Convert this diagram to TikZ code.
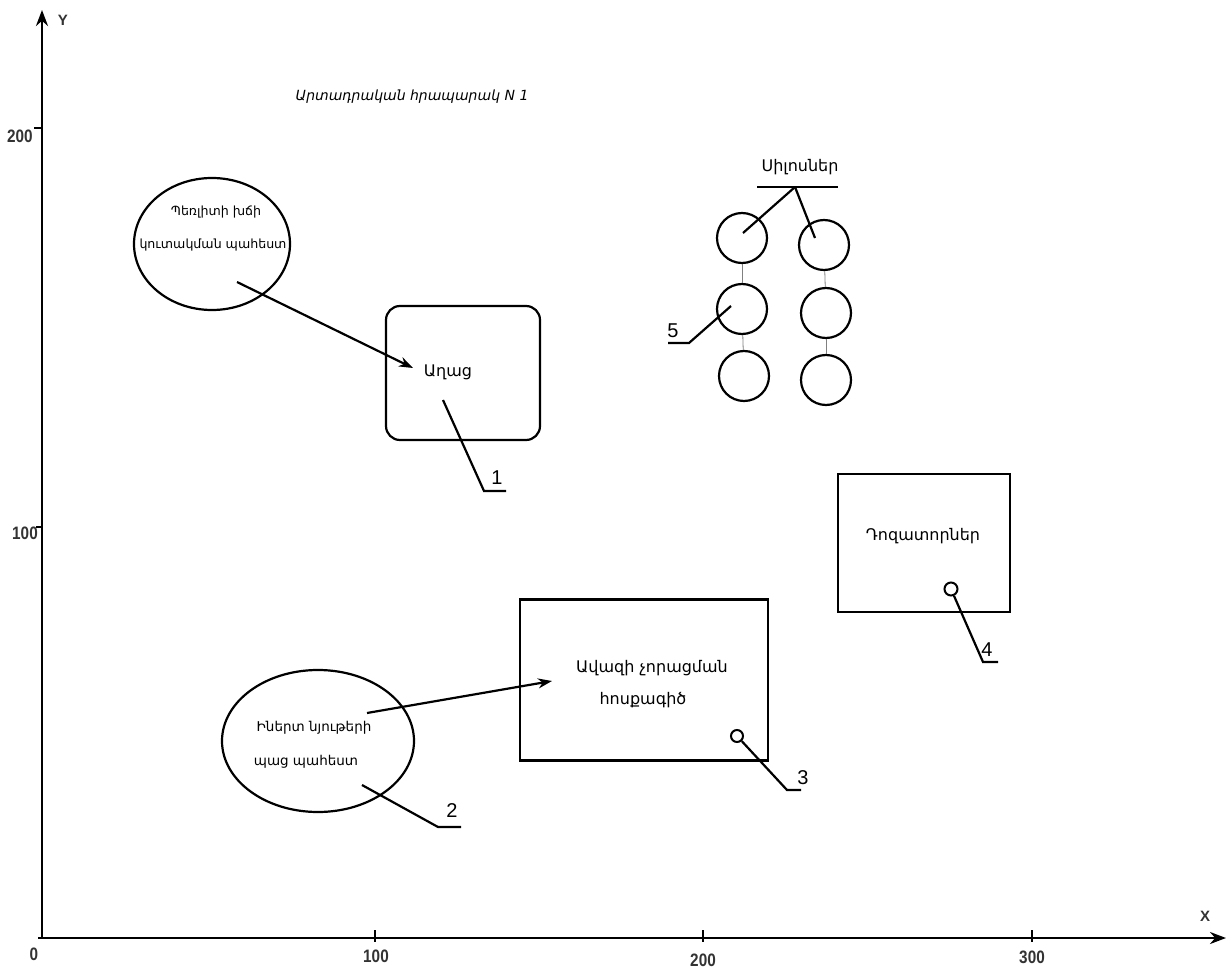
\documentclass[tikz,border=0pt]{standalone}
\usepackage{fontspec}
\setmainfont{DejaVu Sans}
\newfontfamily\numfont{Liberation Sans}
\usetikzlibrary{shapes.geometric,arrows.meta}
\tikzset{
  ln/.style={line width=2.2pt,black},
  axis/.style={line width=2.6pt,black,-{Stealth[length=16pt,width=12pt]}},
  arr/.style={line width=2.2pt,black,-{Stealth[length=14pt,width=10pt]}},
  lbl/.style={font=\fontsize{16}{18}\selectfont,inner sep=0pt},
  elbl/.style={font=\fontsize{13.5}{15}\selectfont,inner sep=0pt},
  elbls/.style={font=\fontsize{12.6}{15}\selectfont,inner sep=0pt},
  num/.style={font=\numfont\fontsize{20}{22}\selectfont,inner sep=0pt},
  tick/.style={font=\numfont\fontsize{18}{20}\selectfont\bfseries,inner sep=0pt,text=black!80,xscale=0.85},
  silo/.style={circle,draw,line width=2.2pt,minimum size=50pt,inner sep=0pt},
  box/.style={draw,line width=2.2pt,inner sep=0pt},
  thin/.style={gray,line width=0.8pt},
}
\begin{document}
\begin{tikzpicture}[x=1pt,y=-1pt]
\useasboundingbox (0,0) rectangle (1231,973);
\fill[white] (0,0) rectangle (1231,973);
% axes
\coordinate (O) at (42,938);
\coordinate (Ytop) at (42,10);
\coordinate (Xend) at (1226,938);
\draw[axis] (O) -- (Ytop);
\draw[axis] (38,938) -- (Xend);
\node[font=\numfont\fontsize{15}{17}\selectfont\bfseries,inner sep=0pt,text=black!80] (ly) at (63,20) {Y};
\node[font=\numfont\fontsize{15}{17}\selectfont\bfseries,inner sep=0pt,text=black!80] (lx) at (1205,916) {X};
\node[tick] (t0) at (34,954) {0};
\draw[line width=1.2pt] (375,930) -- (375,942);
\draw[line width=1.2pt] (703,930) -- (703,942);
\draw[line width=1.2pt] (1032,930) -- (1032,942);
\node[tick] (t100) at (376,956) {100};
\node[tick] (t200) at (703,960) {200};
\node[tick] (t300) at (1032,957) {300};
\draw[line width=1.2pt] (34,128) -- (42,128);
\draw[line width=1.2pt] (36,527) -- (42,527);
\node[tick] (y200) at (20,136) {200};
\node[tick] (y100) at (25,533) {100};
% title
\node[font=\fontsize{14}{16}\selectfont\itshape,inner sep=0pt] (title) at (412,97) {Արտադրական հրապարակ N 1};
% ellipse 1
\node[ellipse,draw,line width=2.2pt,minimum width=156pt,minimum height=132pt] (e1) at (212,244) {};
\node[elbls] (e1a) at (216,212) {Պեռլիտի խճի};
\node[elbls] (e1b) at (213,245) {կուտակման պահեստ};
\coordinate (a1s) at (237,282);
% mill
\node[box,rounded corners=14pt,minimum width=154pt,minimum height=134pt] (mill) at (463,373) {};
\node[lbl] (millt) at (448,372) {Աղաց};
\coordinate (a1e) at (413,368);
\draw[arr] (a1s) -- (a1e);
\coordinate (m1) at (443,400);
\coordinate (m1b) at (484,491);
\coordinate (m1c) at (506,491);
\draw[ln] (m1) -- (m1b) -- (m1c);
\node[num] (n1) at (497,478) {1};
% silos
\node[silo] (s11) at (742,238) {};
\node[silo] (s12) at (742,309) {};
\node[silo] (s13) at (744,376) {};
\node[silo] (s21) at (824,245) {};
\node[silo] (s22) at (826,313) {};
\node[silo] (s23) at (826,380) {};
\draw[thin] (s11) -- (s12);
\draw[thin] (s12) -- (s13);
\draw[thin] (s21) -- (s22);
\draw[thin] (s22) -- (s23);
\node[lbl] (silot) at (800,167) {Սիլոսներ};
\coordinate (su1) at (757,187);
\coordinate (su2) at (838,187);
\coordinate (sv) at (795,187);
\draw[ln] (su1) -- (su2);
\draw[ln] (sv) -- (743,233);
\draw[ln] (sv) -- (815,238);
\coordinate (p5) at (731,306);
\draw[ln] (p5) -- (689,343) -- (668,343);
\node[num] (n5) at (673,331) {5};
% dosers
\node[box,minimum width=172pt,minimum height=138pt] (dos) at (924,543) {};
\node[lbl] (dost) at (923,536) {Դոզատորներ};
\node[circle,draw,line width=2pt,minimum size=13pt,inner sep=0pt] (c4) at (951,589) {};
\draw[ln] (c4) -- (983,662) -- (998,662);
\node[num] (n4) at (987,650) {4};
% drying line
\node[box,minimum width=248pt,minimum height=161pt] (dry) at (644,680) {};
\node[lbl] (dryt1) at (652,668) {Ավազի չորացման};
\node[lbl] (dryt2) at (643,700) {հոսքագիծ};
\node[circle,draw,line width=2pt,minimum size=12pt,inner sep=0pt] (c3) at (737,736) {};
\draw[ln] (c3) -- (787,790) -- (801,790);
\node[num] (n3) at (803,778) {3};
% ellipse 2
\node[ellipse,draw,line width=2.2pt,minimum width=192pt,minimum height=142pt] (e2) at (318,741) {};
\node[elbl] (e2a) at (314,728) {Իներտ նյութերի};
\node[elbl] (e2b) at (306,762) {պաց պահեստ};
\coordinate (a2s) at (367,713);
\coordinate (a2e) at (552,681);
\draw[arr] (a2s) -- (a2e);
\coordinate (p2) at (362,785);
\draw[ln] (p2) -- (438,827) -- (461,827);
\node[num] (n2) at (452,811) {2};
\end{tikzpicture}
\end{document}
